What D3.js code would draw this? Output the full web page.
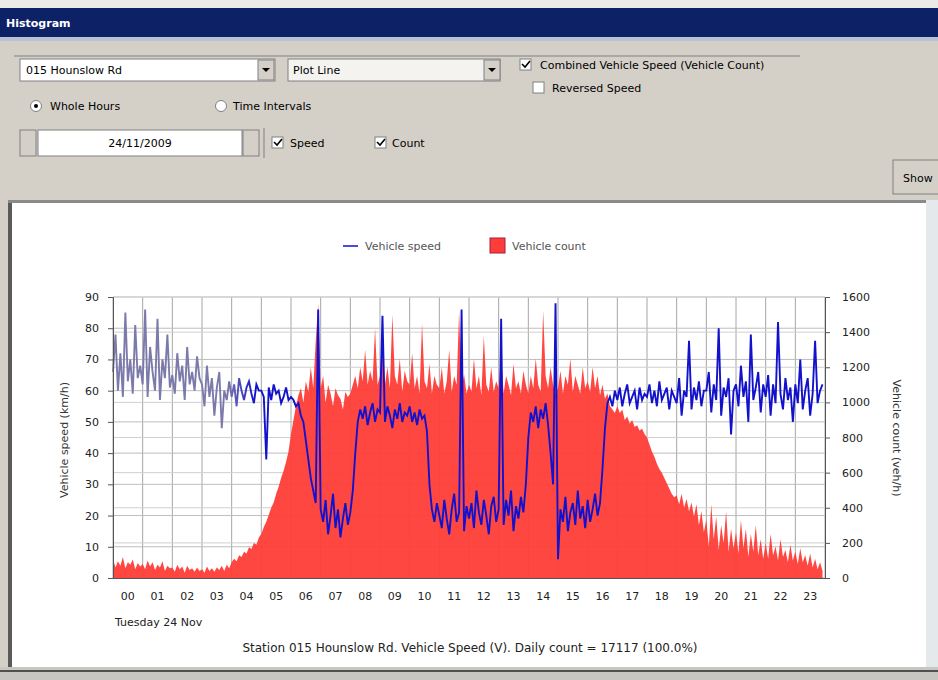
<!DOCTYPE html>
<html>
<head>
<meta charset="utf-8">
<script src="https://cdn.jsdelivr.net/npm/d3@7"></script>
<style>
  body { margin: 0; background: #d4d0c8; overflow: hidden; }
  text { font-family: Tahoma, "DejaVu Sans", sans-serif; }
</style>
</head>
<body>
<div id="chart"></div>
<script>
// hour labels on the x axis
var hourLabels = ["00","01","02","03","04","05","06","07","08","09","10","11",
                  "12","13","14","15","16","17","18","19","20","21","22","23"];

// speed ticks (left) and count ticks (right)
var speedTicks = [0, 10, 20, 30, 40, 50, 60, 70, 80, 90];
var countTicks = [0, 200, 400, 600, 800, 1000, 1200, 1400, 1600];

// vehicle speed, one row per hour, 5 minute steps (km/h)
var speedByHour = [
  [66, 78, 60, 72, 58, 85, 63, 70, 59, 81, 64, 68],
  [62, 86, 58, 74, 66, 60, 83, 57, 70, 64, 78, 61],
  [65, 59, 72, 63, 68, 57, 74, 62, 66, 60, 71, 64],
  [62, 55, 68, 58, 64, 52, 61, 66, 48, 60, 57, 63],
  [58, 62, 55, 64, 60, 57, 61, 63, 59, 56, 62, 60],
  [60, 58, 38, 61, 57, 62, 59, 60, 56, 58, 61, 57],
  [58, 57, 55, 56, 52, 50, 44, 38, 32, 28, 24, 86],
  [22, 18, 25, 14, 20, 27, 16, 22, 13, 19, 24, 17],
  [21, 28, 40, 50, 54, 51, 55, 49, 53, 56, 50, 54],
  [53, 84, 50, 55, 52, 48, 54, 51, 56, 50, 53, 52],
  [55, 50, 53, 49, 54, 51, 52, 47, 30, 22, 18, 24],
  [20, 16, 25, 19, 14, 22, 27, 18, 21, 86, 15, 23],
  [19, 24, 16, 28, 21, 17, 25, 20, 14, 23, 26, 18],
  [22, 83, 17, 25, 20, 28, 15, 23, 19, 26, 21, 30],
  [45, 53, 50, 55, 48, 54, 51, 56, 49, 40, 30, 88],
  [6, 22, 18, 26, 15, 21, 24, 17, 28, 19, 23, 16],
  [25, 18, 22, 27, 20, 24, 35, 48, 56, 58, 55, 60],
  [57, 61, 55, 59, 62, 56, 58, 60, 54, 61, 57, 59],
  [58, 62, 56, 60, 55, 63, 57, 59, 61, 54, 60, 58],
  [56, 64, 52, 60, 58, 76, 54, 61, 57, 63, 55, 60],
  [60, 66, 53, 62, 57, 80, 52, 61, 58, 64, 46, 60],
  [62, 55, 68, 58, 63, 50, 78, 57, 61, 66, 53, 62],
  [58, 65, 52, 62, 56, 82, 59, 54, 64, 57, 61, 50],
  [62, 56, 70, 54, 60, 64, 52, 59, 76, 56, 60, 62]
];

// vehicle count, one row per hour, 5 minute steps (veh/h)
var countByHour = [
  [110, 60, 95, 70, 120, 55, 90, 75, 105, 50, 85, 65],
  [80, 50, 100, 65, 90, 45, 75, 60, 95, 40, 70, 55],
  [60, 35, 75, 50, 65, 30, 70, 45, 55, 35, 60, 40],
  [50, 30, 65, 40, 55, 35, 60, 45, 70, 40, 75, 55],
  [90, 110, 95, 130, 120, 150, 140, 175, 165, 200, 190, 230],
  [250, 290, 320, 360, 400, 430, 480, 520, 570, 610, 660, 720],
  [820, 900, 980, 1040, 1080, 1000, 1120, 1060, 1200, 1080, 1350, 1560],
  [1080, 1150, 1000, 1100, 1050, 980, 1080, 1040, 1020, 960, 1060, 1030],
  [1050, 1100, 1150, 1080, 1200, 1120, 1300, 1100, 1180, 1120, 1420, 1100],
  [1150, 1350, 1100, 1200, 1080, 1500, 1150, 1100, 1250, 1060, 1180, 1120],
  [1100, 1280, 1080, 1150, 1050, 1450, 1120, 1080, 1220, 1050, 1150, 1100],
  [1080, 1200, 1050, 1120, 1300, 1060, 1150, 1100, 1520, 1080, 1160, 1050],
  [1100, 1060, 1250, 1080, 1150, 1040, 1380, 1100, 1060, 1200, 1060, 1120],
  [1080, 1280, 1050, 1150, 1100, 1040, 1220, 1080, 1120, 1050, 1180, 1100],
  [1050, 1150, 1080, 1250, 1100, 1060, 1520, 1150, 1080, 1200, 1100, 1050],
  [1080, 1180, 1050, 1150, 1100, 1250, 1060, 1150, 1100, 1050, 1200, 1080],
  [1120, 1060, 1200, 1080, 1150, 1040, 1100, 1020, 1050, 980, 960, 940],
  [980, 940, 960, 900, 920, 880, 900, 860, 870, 840, 850, 820],
  [800, 760, 720, 690, 650, 620, 600, 570, 540, 510, 480, 460],
  [470, 420, 480, 400, 450, 380, 430, 350, 420, 300, 380, 260],
  [330, 180, 420, 220, 350, 160, 300, 200, 380, 150, 280, 170],
  [260, 140, 330, 170, 280, 120, 250, 150, 300, 130, 220, 110],
  [200, 110, 250, 130, 180, 100, 220, 120, 160, 90, 190, 100],
  [150, 80, 170, 90, 130, 70, 140, 60, 110, 50, 90, 40]
];

var W = 938, H = 680;

var svg = d3.select("#chart")
    .append("svg")
    .attr("width", W)
    .attr("height", H);

// ---------- dialog frame ----------
svg.append("rect").attr("width", W).attr("height", H).attr("fill", "#d4d0c8");
svg.append("rect").attr("width", W).attr("height", 8).attr("fill", "#eceae6");
svg.append("rect").attr("y", 8).attr("width", W).attr("height", 29).attr("fill", "#0c2166");
svg.append("rect").attr("y", 37).attr("width", W).attr("height", 4).attr("fill", "#b9c2d4");
svg.append("text").attr("x", 6).attr("y", 27)
    .attr("fill", "#ffffff").attr("font-size", 11).attr("font-weight", "bold")
    .text("Histogram");

function box(x, y, w, h, fill) {
    svg.append("rect").attr("x", x).attr("y", y).attr("width", w).attr("height", h)
        .attr("fill", fill).attr("stroke", "#808080");
}
function label(x, y, txt) {
    svg.append("text").attr("x", x).attr("y", y).attr("font-size", 11)
        .attr("fill", "#000").text(txt);
}
function checkbox(x, y, on) {
    box(x, y, 11, 11, "#ffffff");
    if (on) {
        svg.append("path").attr("d", `M${x + 2},${y + 5} l3,3 l5,-6`)
            .attr("fill", "none").attr("stroke", "#000").attr("stroke-width", 1.6);
    }
}
function radio(x, y, on) {
    svg.append("circle").attr("cx", x + 6).attr("cy", y + 6).attr("r", 5.5)
        .attr("fill", "#fff").attr("stroke", "#808080");
    if (on) svg.append("circle").attr("cx", x + 6).attr("cy", y + 6).attr("r", 2).attr("fill", "#000");
}
function dropButton(x, y, h) {
    box(x, y, 16, h, "#d4d0c8");
    svg.append("path").attr("d", `M${x + 4},${y + h / 2 - 2} h8 l-4,4 z`).attr("fill", "#000");
}

svg.append("line").attr("x1", 14).attr("x2", 800).attr("y1", 56).attr("y2", 56)
    .attr("stroke", "#808080");

box(20, 59, 255, 22, "#ffffff");
label(26, 74, "015 Hounslow Rd");
dropButton(258, 60, 20);

box(288, 59, 212, 22, "#f4f3f0");
label(293, 74, "Plot Line");
dropButton(484, 60, 20);

checkbox(520, 59, true);
label(540, 69, "Combined Vehicle Speed (Vehicle Count)");
checkbox(533, 82, false);
label(552, 92, "Reversed Speed");

radio(30, 100, true);
label(50, 110, "Whole Hours");
radio(215, 100, false);
label(233, 110, "Time Intervals");

box(20, 130, 16, 26, "#d4d0c8");
box(38, 130, 204, 26, "#ffffff");
svg.append("text").attr("x", 140).attr("y", 147).attr("text-anchor", "middle")
    .attr("font-size", 11).text("24/11/2009");
box(243, 130, 16, 26, "#d4d0c8");
svg.append("line").attr("x1", 264).attr("x2", 264).attr("y1", 128).attr("y2", 158).attr("stroke", "#808080");
checkbox(272, 137, true);
label(290, 147, "Speed");
checkbox(375, 137, true);
label(392, 147, "Count");

box(893, 160, 60, 34, "#d4d0c8");
label(903, 182, "Show");

// chart panel
svg.append("rect").attr("x", 8).attr("y", 200).attr("width", 920).attr("height", 470).attr("fill", "#ffffff");
svg.append("rect").attr("x", 8).attr("y", 200).attr("width", 4).attr("height", 470).attr("fill", "#5a5a5a");
svg.append("rect").attr("x", 8).attr("y", 200).attr("width", 920).attr("height", 3).attr("fill", "#8a8a8a");
svg.append("rect").attr("x", 926).attr("y", 200).attr("width", 12).attr("height", 470).attr("fill", "#e4e9ec");
svg.append("rect").attr("x", 0).attr("y", 667).attr("width", W).attr("height", 13).attr("fill", "#c8c6c0");
svg.append("rect").attr("x", 0).attr("y", 670).attr("width", W).attr("height", 2).attr("fill", "#505050");

// ---------- plot ----------
var margin = { left: 113, right: 825, top: 297, bottom: 578 };

var xScale = d3.scaleLinear().domain([0, 24]).range([margin.left, margin.right]);
var xBand = d3.scaleBand().domain(hourLabels).range([margin.left, margin.right]);
var ySpeed = d3.scaleLinear().domain([0, 90]).range([margin.bottom, margin.top]);
var yCount = d3.scaleLinear().domain([0, 1600]).range([margin.bottom, margin.top]);

var speedData = speedByHour.flat().map((v, i) => ({ t: i / 12, v: v }));
var countData = countByHour.flat().map((v, i) => ({ t: i / 12, v: v }));

var plot = svg.append("g");

// grid
plot.append("g").selectAll("line")
    .data(d3.range(0, 25))
    .enter().append("line")
    .attr("x1", d => xScale(d)).attr("x2", d => xScale(d))
    .attr("y1", margin.top).attr("y2", margin.bottom)
    .attr("stroke", "#a6a6a6");
plot.append("g").selectAll("line")
    .data(speedTicks)
    .enter().append("line")
    .attr("x1", margin.left).attr("x2", margin.right)
    .attr("y1", d => ySpeed(d)).attr("y2", d => ySpeed(d))
    .attr("stroke", "#bdbdbd");
plot.append("g").selectAll("line")
    .data(countTicks)
    .enter().append("line")
    .attr("x1", margin.left).attr("x2", margin.right)
    .attr("y1", d => yCount(d)).attr("y2", d => yCount(d))
    .attr("stroke", "#d0d0d0");

// count area
var area = d3.area()
    .x(d => xScale(d.t))
    .y0(yCount(0))
    .y1(d => yCount(d.v));
plot.append("path")
    .datum(countData)
    .attr("d", area)
    .attr("fill", "#ff3d38")
    .attr("fill-opacity", 0.95);

// speed line, lighter through the night hours
var grad = svg.append("defs").append("linearGradient")
    .attr("id", "speedGrad")
    .attr("gradientUnits", "userSpaceOnUse")
    .attr("x1", margin.left).attr("x2", margin.right)
    .attr("y1", 0).attr("y2", 0);
grad.append("stop").attr("offset", 0).attr("stop-color", "#7c7aaa");
grad.append("stop").attr("offset", 0.16).attr("stop-color", "#7c7aaa");
grad.append("stop").attr("offset", 0.2).attr("stop-color", "#1212cc");
grad.append("stop").attr("offset", 1).attr("stop-color", "#1212cc");

var line = d3.line()
    .x(d => xScale(d.t))
    .y(d => ySpeed(d.v));
plot.append("path")
    .datum(speedData)
    .attr("d", line)
    .attr("fill", "none")
    .attr("stroke", "url(#speedGrad)")
    .attr("stroke-width", 1.9);

// axes
var leftAxis = d3.axisLeft(ySpeed).tickValues(speedTicks).tickSize(5).tickPadding(9);
var rightAxis = d3.axisRight(yCount).tickValues(countTicks).tickSize(5).tickPadding(12)
    .tickFormat(d3.format("d"));
var bottomAxis = d3.axisBottom(xBand).tickSize(0).tickPadding(14);

function styleAxis(g) {
    g.selectAll("path, line").attr("stroke", "#555");
    g.selectAll("text").attr("font-size", 11).attr("fill", "#222")
        .attr("font-family", 'Tahoma, "DejaVu Sans", sans-serif');
}

plot.append("g").attr("transform", `translate(${margin.left},0)`).call(leftAxis).call(styleAxis);
plot.append("g").attr("transform", `translate(${margin.right},0)`).call(rightAxis).call(styleAxis);
plot.append("g").attr("transform", `translate(0,${margin.bottom})`).call(bottomAxis).call(styleAxis);

// axis titles
svg.append("text")
    .attr("transform", `translate(68, 440) rotate(-90)`)
    .attr("text-anchor", "middle").attr("font-size", 11).attr("fill", "#333")
    .text("Vehicle speed (km/h)");
svg.append("text")
    .attr("transform", `translate(893, 438) rotate(90)`)
    .attr("text-anchor", "middle").attr("font-size", 11).attr("fill", "#333")
    .text("Vehicle count (veh/h)");

// legend
svg.append("line").attr("x1", 343).attr("x2", 358).attr("y1", 246).attr("y2", 246)
    .attr("stroke", "#1212cc").attr("stroke-width", 1.5);
svg.append("text").attr("x", 365).attr("y", 250).attr("font-size", 11).attr("fill", "#555")
    .text("Vehicle speed");
svg.append("rect").attr("x", 490).attr("y", 238).attr("width", 15).attr("height", 15)
    .attr("fill", "#ff3d38").attr("stroke", "#a02040");
svg.append("text").attr("x", 512).attr("y", 250).attr("font-size", 11).attr("fill", "#555")
    .text("Vehicle count");

// footer texts
svg.append("text").attr("x", 115).attr("y", 626).attr("font-size", 11).attr("fill", "#222")
    .text("Tuesday 24 Nov");
svg.append("text").attr("x", 470).attr("y", 652).attr("text-anchor", "middle")
    .attr("font-size", 12).attr("fill", "#222")
    .text("Station 015 Hounslow Rd. Vehicle Speed (V). Daily count = 17117 (100.0%)");
</script>
</body>
</html>
